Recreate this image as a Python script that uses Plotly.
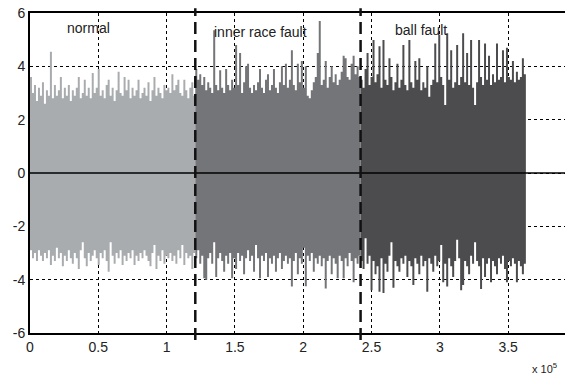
import plotly.graph_objects as go

# ---------------- data ----------------
segment_names = ["normal", "inner race fault", "ball fault"]
segment_starts = [0, 121000, 242000]
segment_length = 121000
segment_colors = ["#a9acaf", "#737578", "#4c4c4e"]

normal_upper = [3.6, 3.0, 3.3, 2.7, 3.2, 2.9, 3.4, 2.6, 3.1, 2.9,
                4.55, 2.8, 3.3, 2.9, 3.1, 3.6, 2.8, 3.2, 2.9, 3.3,
                2.7, 3.1, 2.9, 3.2, 3.6, 2.8, 3.0, 3.5, 2.9, 3.2,
                2.8, 3.75, 3.0, 3.2, 3.9, 2.9, 3.1, 2.8, 3.3, 3.5,
                2.9, 3.2, 2.7, 3.1, 3.8, 3.0, 2.9, 3.6, 3.1, 3.5,
                2.8, 3.2, 2.9, 3.1, 3.5, 2.8, 3.0, 3.2, 2.9, 3.4,
                2.7, 3.1, 3.6, 2.9, 3.2, 3.0, 2.8, 3.3, 3.1, 3.2,
                3.0, 3.7, 3.1, 3.3, 3.5, 3.0, 2.9, 3.5, 3.1, 2.8,
                3.2, 3.4, 2.9]
normal_lower = [-2.9, -3.2, -3.0, -3.3, -2.9, -3.1, -3.3, -3.0, -3.2, -2.9,
                -3.45, -3.1, -3.3, -2.8, -3.2, -3.0, -3.5, -3.1, -3.3, -2.9,
                -3.2, -3.4, -3.0, -3.2, -3.6, -2.9, -2.6, -3.2, -3.5, -3.0,
                -3.3, -3.1, -2.9, -3.2, -3.45, -3.0, -3.2, -2.9, -3.3, -3.7,
                -2.6, -3.1, -3.4, -3.0, -3.2, -2.9, -3.45, -3.1, -3.3, -3.0,
                -3.2, -2.9, -3.45, -3.1, -3.3, -3.0, -3.2, -2.9, -3.1, -3.3,
                -3.5, -3.0, -2.7, -3.6, -3.1, -3.3, -2.9, -3.4, -3.1, -3.2,
                -3.0, -3.3, -3.1, -3.4, -2.9, -3.2, -2.7, -3.45, -3.0, -3.2,
                -3.1, -3.6, -3.0]

inner_upper = [3.9, 3.5, 3.7, 3.3, 3.6, 3.1, 3.4, 3.2, 3.0, 5.35,
               3.3, 3.1, 3.85, 3.2, 3.0, 3.9, 3.3, 3.1, 3.5, 3.2,
               4.8, 3.3, 4.5, 3.0, 3.4, 4.0, 4.1, 3.2, 3.0, 3.3,
               3.1, 3.4, 3.9, 3.2, 3.0, 3.5, 3.7, 3.1, 3.3, 3.9,
               3.2, 3.0, 3.4, 4.0, 3.3, 4.1, 3.2, 3.5, 4.6, 3.3,
               3.1, 4.1, 3.4, 4.2, 3.2, 4.0, 2.9, 2.8, 3.1, 3.4,
               3.6, 4.5, 5.7, 3.3, 3.5, 4.2, 3.2, 3.6, 4.0, 3.4,
               3.7, 3.3, 3.5, 3.8, 4.4, 4.3, 3.6, 3.5, 4.1, 4.4,
               3.7, 4.0, 3.6]
inner_lower = [-3.2, -2.9, -3.4, -3.1, -3.95, -4.0, -3.2, -3.0, -3.4, -2.6,
               -3.9, -3.2, -3.0, -3.3, -3.7, -3.1, -3.4, -3.0, -3.95, -3.2,
               -3.6, -3.0, -3.3, -3.1, -3.8, -3.2, -2.9, -3.3, -3.1, -3.7,
               -2.7, -3.2, -3.95, -3.1, -3.3, -3.0, -3.9, -3.2, -3.4, -3.1,
               -3.7, -3.2, -3.0, -3.6, -3.3, -3.1, -3.4, -3.2, -4.26, -3.3,
               -3.0, -3.8, -3.2, -3.4, -2.8, -4.25, -3.1, -3.3, -3.0, -3.7,
               -3.2, -3.4, -3.1, -3.5, -3.2, -4.33, -3.3, -3.1, -3.8, -3.2,
               -3.4, -3.95, -3.1, -3.3, -3.95, -3.2, -3.5, -3.0, -3.3, -4.1,
               -3.2, -3.4, -3.1]

ball_upper = [3.5, 3.2, 3.9, 4.5, 3.3, 3.6, 4.99, 3.4, 3.7, 4.75,
              3.2, 4.99, 3.5, 3.3, 4.3, 3.6, 3.1, 3.4, 4.1, 3.2,
              3.5, 4.8, 3.3, 3.1, 4.99, 3.4, 3.2, 4.2, 3.5, 4.3,
              3.1, 3.4, 3.2, 4.0, 2.86, 3.3, 3.5, 4.86, 3.4, 5.18,
              3.6, 3.3, 2.55, 5.24, 3.5, 4.6, 3.2, 3.4, 4.8, 3.3,
              3.6, 5.24, 3.4, 4.5, 3.3, 4.99, 3.2, 2.55, 3.4, 4.99,
              3.6, 3.3, 4.86, 3.5, 4.4, 3.3, 3.7, 3.4, 4.86, 3.5,
              3.6, 4.6, 3.4, 4.7, 3.6, 3.5, 4.2, 3.4, 3.8, 3.5,
              3.6, 4.3, 3.7]
ball_lower = [-3.3, -3.6, -2.45, -3.4, -3.1, -4.4, -3.3, -3.8, -3.5, -4.45,
              -3.2, -4.5, -3.4, -3.7, -3.1, -2.6, -4.3, -3.3, -3.5, -3.7,
              -3.2, -3.4, -3.1, -3.9, -3.3, -3.5, -4.2, -3.2, -3.4, -3.8,
              -3.1, -3.5, -3.3, -4.45, -3.2, -3.4, -3.7, -3.1, -3.5, -3.3,
              -2.7, -4.1, -3.4, -4.26, -3.2, -3.5, -3.9, -3.3, -2.5, -3.2,
              -4.4, -4.2, -3.3, -3.5, -3.8, -3.1, -3.4, -2.6, -3.3, -3.5,
              -4.35, -3.2, -3.9, -3.4, -3.2, -4.1, -3.3, -3.5, -3.8, -3.2,
              -3.4, -3.1, -3.6, -4.1, -3.3, -3.5, -3.2, -3.4, -4.1, -3.3,
              -3.5, -3.8, -3.4]

label_x = [0.426e5, 1.6875e5, 2.865e5]
label_y = [5.44, 5.29, 5.38]

x_tick_vals = [0, 0.5e5, 1e5, 1.5e5, 2e5, 2.5e5, 3e5, 3.5e5]
x_tick_text = ["0", "0.5", "1", "1.5", "2", "2.5", "3", "3.5"]
y_tick_vals = [-6, -4, -2, 0, 2, 4, 6]
y_tick_text = ["-6", "-4", "-2", "0", "2", "4", "6"]
X_MAX = 3.975e5

uppers = [normal_upper, inner_upper, ball_upper]
lowers = [normal_lower, inner_lower, ball_lower]

FONT = "Liberation Sans, Arial, sans-serif"

fig = go.Figure()

for start, up, lo, col in zip(segment_starts, uppers, lowers, segment_colors):
    n = len(up)
    dx = segment_length / n
    xs, ys = [], []
    for i, v in enumerate(up):
        xs += [start + i * dx, start + (i + 1) * dx]
        ys += [v, v]
    m = len(lo)
    dxl = segment_length / m
    for i in range(m - 1, -1, -1):
        v = lo[i]
        xs += [start + (i + 1) * dxl, start + i * dxl]
        ys += [v, v]
    fig.add_trace(go.Scatter(x=xs, y=ys, fill="toself", fillcolor=col,
                             mode="lines", line=dict(width=0, color=col),
                             hoverinfo="skip", showlegend=False))

shapes = []
# zero line drawn over the signal
shapes.append(dict(type="line", xref="paper", yref="y", x0=0, x1=1, y0=0, y1=0,
                   line=dict(color="black", width=1.5), layer="above"))
# segment boundaries
for start in segment_starts[1:]:
    xp = start / X_MAX
    shapes.append(dict(type="line", xref="paper", yref="paper", x0=xp, x1=xp,
                       y0=-0.022, y1=1.015,
                       line=dict(color="#111111", width=2.5, dash="12px,6px"),
                       layer="above"))

annotations = []
for name, lx, ly in zip(segment_names, label_x, label_y):
    annotations.append(dict(x=lx, y=ly, xref="x", yref="y", text=name,
                            showarrow=False, font=dict(family=FONT, size=14, color="#222222"),
                            xanchor="center", yanchor="middle"))
annotations.append(dict(x=0.921, y=-0.109, xref="paper", yref="paper",
                        text="x 10<sup>5</sup>", showarrow=False,
                        xanchor="left", yanchor="middle",
                        font=dict(family=FONT, size=11, color="#222222")))

# the page body adds an 8px offset, so the figure is sized to fill the rest
fig.update_layout(
    width=565, height=368, autosize=False,
    margin=dict(l=22, r=0, t=5, b=43, pad=0, autoexpand=False),
    paper_bgcolor="white", plot_bgcolor="white",
    showlegend=False,
    shapes=shapes, annotations=annotations,
    font=dict(family=FONT, size=14, color="#222222"),
    xaxis=dict(range=[0, X_MAX], tickvals=x_tick_vals, ticktext=x_tick_text,
               showgrid=True, gridcolor="black", gridwidth=1, griddash="3px,3px",
               zeroline=False, showline=True, linecolor="black", linewidth=2,
               mirror=True, ticks="", automargin=False, ticklabeloverflow="allow",
               tickfont=dict(family=FONT, size=14, color="#222222")),
    yaxis=dict(range=[-6, 6], tickvals=y_tick_vals, ticktext=y_tick_text,
               showgrid=True, gridcolor="black", gridwidth=1, griddash="3px,3px",
               zeroline=False, showline=True, linecolor="black", linewidth=2,
               mirror=False, ticks="", automargin=False, ticklabeloverflow="allow",
               tickfont=dict(family=FONT, size=14, color="#222222")),
)

fig.write_html("out.html")
